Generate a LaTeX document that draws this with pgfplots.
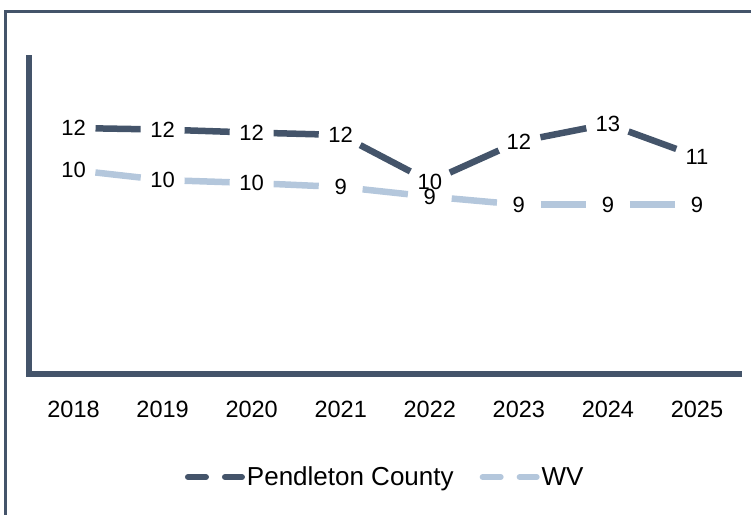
\documentclass[border=0pt]{standalone}
\usepackage{fontspec}
\setmainfont{Liberation Sans}
\usepackage{pgfplots}
\usepackage{pgfplotstable}
\pgfplotsset{compat=1.18}
\definecolor{slate}{HTML}{44546A}
\definecolor{wvblue}{HTML}{B4C7DC}
\pgfplotstableread{
x y dx dy label
0 12.34 1 -0.08 12
1 12.26 1 -0.15 12
2 12.11 1 -0.12 12
3 11.99 1 -2.34 12
4 9.65 1 2.01 10
5 11.66 1 0.88 12
6 12.54 1 -1.63 13
7 10.91 0 0 11
}\pend
\pgfplotstableread{
x y dx dy label
0 10.23 1 -0.50 10
1 9.73 1 -0.15 10
2 9.58 1 -0.20 10
3 9.38 1 -0.48 9
4 8.90 1 -0.40 9
5 8.50 1 0 9
6 8.50 1 0 9
7 8.50 0 0 9
}\wv
\begin{document}
\begin{tikzpicture}
\useasboundingbox (0,0) rectangle (751pt,514pt);
\draw[slate, line width=3pt] (5pt,-10pt) -- (5pt,502.5pt) -- (760pt,502.5pt);
\begin{axis}[
  scale only axis, width=712.5pt, height=319pt,
  at={(29pt,140pt)}, anchor=south west,
  xmin=-0.5, xmax=7.5, ymin=0, ymax=16,
  axis x line=bottom, axis y line=left,
  axis line style={-, line width=5.5pt, slate},
  x axis line style={shorten <=-2.75pt},
  y axis line style={shorten <=-2.75pt},
  xtick={0,...,7}, xticklabels={2018,2019,2020,2021,2022,2023,2024,2025},
  ytick=\empty, major tick length=0pt,
  xticklabel style={anchor=center, yshift=-35pt, font=\fontsize{23.5}{27}\selectfont},
  every node near coord/.append style={anchor=center, font=\fontsize{22}{26}\selectfont, text=black},
  clip=false,
  legend style={at={(0.5,-0.323)}, anchor=center, draw=none, fill=none,
    font=\fontsize{26}{30}\selectfont, legend columns=-1,
    /tikz/every even column/.append style={column sep=24pt}},
  legend cell align=left,
]
\addplot[quiver={u=\thisrow{dx},v=\thisrow{dy}}, skip coords between index={7}{8},
  draw=slate, line width=6.5pt,
  quiver/every arrow/.append style={-, shorten <=22pt, shorten >=22pt},
  legend image code/.code={
    \draw[line width=6pt, line cap=round] (0pt,0pt) -- (18pt,0pt);
    \draw[line width=6pt, line cap=round] (37pt,0pt) -- (54pt,0pt);}
] table[x=x,y=y] {\pend};
\addlegendentry{Pendleton County}
\addplot[quiver={u=\thisrow{dx},v=\thisrow{dy}}, skip coords between index={7}{8},
  draw=wvblue, line width=6.5pt,
  quiver/every arrow/.append style={-, shorten <=22pt, shorten >=22pt},
  legend image code/.code={
    \draw[line width=6pt, line cap=round] (0pt,0pt) -- (18pt,0pt);
    \draw[line width=6pt, line cap=round] (37pt,0pt) -- (54pt,0pt);}
] table[x=x,y=y] {\wv};
\addlegendentry{WV}
\addplot[forget plot, only marks, mark=*, mark size=0pt, mark options={draw=none,fill=none},
  nodes near coords, point meta=explicit symbolic] table[x=x,y=y,meta=label] {\pend};
\addplot[forget plot, only marks, mark=*, mark size=0pt, mark options={draw=none,fill=none},
  nodes near coords, point meta=explicit symbolic] table[x=x,y=y,meta=label] {\wv};
\end{axis}
\end{tikzpicture}
\end{document}
